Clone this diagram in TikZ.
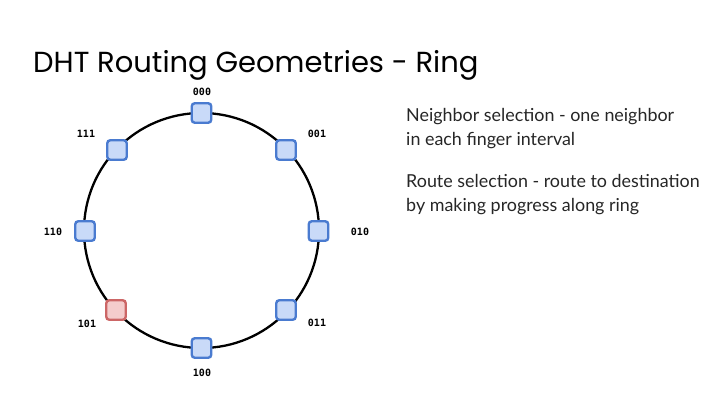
\documentclass[tikz,border=0pt]{standalone}
\usepackage{fontspec}
\setmainfont{Lato}
\newfontfamily\titlefont{Poppins}
\newfontfamily\labelfont{DejaVu Sans Mono}
\definecolor{nodeblue}{HTML}{4A7BD0}
\definecolor{nodebluefill}{HTML}{C9DAF8}
\definecolor{nodered}{HTML}{CC6666}
\definecolor{noderedfill}{HTML}{F4CCCC}
\tikzset{
  peer/.style={draw=nodeblue, fill=nodebluefill, line width=2.4pt, rounded corners=3pt, minimum size=19.5pt, inner sep=0pt},
  peerred/.style={peer, draw=nodered, fill=noderedfill},
  lbl/.style={font=\labelfont\bfseries\fontsize{10}{12}\selectfont, inner sep=0pt},
  body/.style={font=\fontsize{17.9}{24.5}\selectfont, anchor=north west, inner sep=0pt, align=left, text=black!85}
}
\begin{document}
\begin{tikzpicture}[x=1pt,y=-1pt]
\useasboundingbox (0,0) rectangle (720,405);
\node[anchor=base west, inner sep=0pt, font=\titlefont\fontsize{29}{34}\selectfont] (title) at (33,72) {DHT Routing Geometries - Ring};
\coordinate (c) at (201.5,230.5);
\draw[line width=2.3pt] (c) circle (117.5);
\node[peer] (n000) at (201.5,113) {};
\node[peer] (n001) at (286,150) {};
\node[peer] (n010) at (318.5,231) {};
\node[peer] (n011) at (286,310) {};
\node[peer] (n100) at (201.5,348) {};
\node[peerred] (n101) at (116,310) {};
\node[peer] (n110) at (85,231) {};
\node[peer] (n111) at (117,150) {};
\node[lbl] (l000) at (202,92) {000};
\node[lbl] (l001) at (317,134) {001};
\node[lbl] (l010) at (360,232) {010};
\node[lbl] (l011) at (317,323) {011};
\node[lbl] (l100) at (202,373) {100};
\node[lbl] (l101) at (87,324) {101};
\node[lbl] (l110) at (53,232) {110};
\node[lbl] (l111) at (86,134) {111};
\node[body] (t1) at (406,108) {Neighbor selection - one neighbor\\in each finger interval};
\node[body] (t2) at (406,174) {Route selection - route to destination\\by making progress along ring};
\end{tikzpicture}
\end{document}
